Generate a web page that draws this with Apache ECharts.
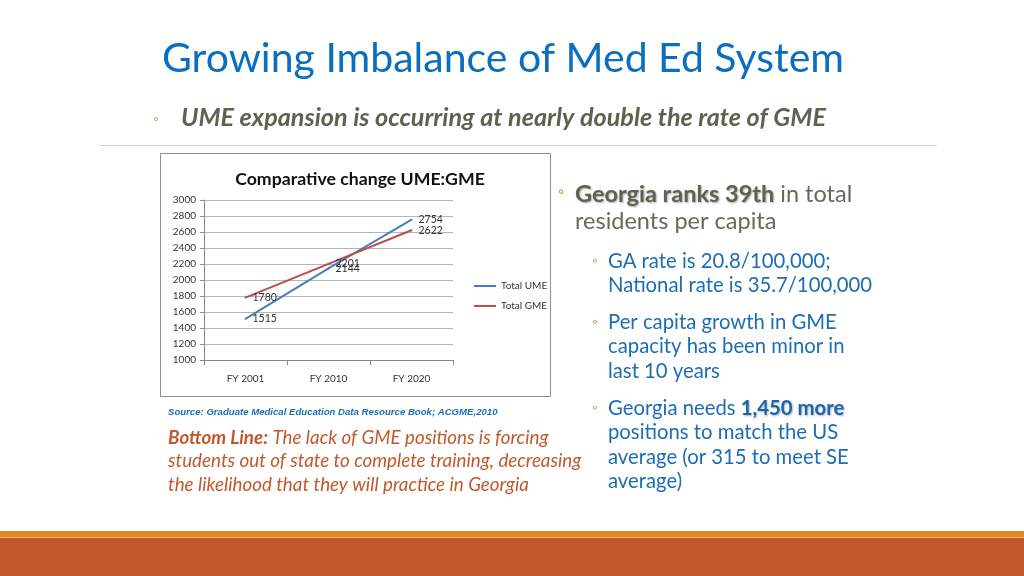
<!DOCTYPE html>
<html><head><meta charset="utf-8">
<script src="https://cdn.jsdelivr.net/npm/echarts@6/dist/echarts.min.js"></script>
<style>html,body{margin:0;padding:0;background:#fff}#c{width:1024px;height:576px}</style>
</head><body><div id="c"></div>
<script>
const categories = ['FY 2001', 'FY 2010', 'FY 2020'];
const umeValues = [1515, 2144, 2754];
const gmeValues = [1780, 2201, 2622];
const seriesNames = ['Total UME', 'Total GME'];
const yMin = 1000, yMax = 3000, yStep = 200;

const F = 'Lato, "Open Sans", sans-serif';
const chart = echarts.init(document.getElementById('c'), null, {renderer: 'canvas'});
const lbl = {show: true, position: 'right', distance: 6, fontSize: 10.5, color: '#333', fontFamily: F};
chart.setOption({
  animation: false,
  backgroundColor: '#fff',
  title: {text: 'Comparative change UME:GME', left: 355, top: 165, textAlign: 'center',
    textStyle: {fontSize: 17.7, fontWeight: 'bold', color: '#111', fontFamily: F}},
  legend: {orient: 'vertical', left: 469, top: 276, itemWidth: 22, itemHeight: 2, itemGap: 10,
    icon: 'rect', textStyle: {fontSize: 10, color: '#333', fontFamily: F},
    data: seriesNames},
  grid: {left: 204, top: 200, width: 249, height: 160, containLabel: false},
  xAxis: {type: 'category', data: categories, boundaryGap: true,
    axisLine: {lineStyle: {color: '#888'}}, axisTick: {show: true, lineStyle: {color: '#888'}},
    axisLabel: {fontSize: 10, color: '#333', fontFamily: F, margin: 14}},
  yAxis: {type: 'value', min: yMin, max: yMax, interval: yStep,
    axisLine: {show: true, lineStyle: {color: '#888'}}, axisTick: {show: true, length: 4, lineStyle: {color: '#888'}},
    axisLabel: {fontSize: 10, color: '#333', fontFamily: F, margin: 8, formatter: v => String(v)},
    splitLine: {lineStyle: {color: '#b5b5b5'}}},
  series: [
    {name: seriesNames[0], type: 'line', data: umeValues, symbol: 'circle', symbolSize: 2, showSymbol: true,
      color: '#4a7ebb', lineStyle: {width: 2}, label: lbl, labelLayout: {hideOverlap: false}},
    {name: seriesNames[1], type: 'line', data: gmeValues, symbol: 'circle', symbolSize: 2, showSymbol: true,
      color: '#be4b48', lineStyle: {width: 2}, label: lbl, labelLayout: {hideOverlap: false}}
  ],
  graphic: [
    {type: 'rect', shape: {x: 160.5, y: 153.5, width: 390, height: 243}, z: -1,
      style: {fill: '#fff', stroke: '#8c8c8c', lineWidth: 1}},
    {type: 'text', left: 162, top: 38, style: {text: 'Growing Imbalance of Med Ed System',
      fontSize: 41, fontFamily: F, fill: '#0a6fc0'}},
    {type: 'text', left: 153, top: 112, style: {text: '◦', fontSize: 14, fill: '#e08a2a', fontFamily: F}},
    {type: 'text', left: 181, top: 105, style: {text: 'UME expansion is occurring at nearly double the rate of GME',
      fontSize: 25.2, fontStyle: 'italic', fontWeight: 'bold', fontFamily: F, fill: '#5c6450'}},
    {type: 'rect', shape: {x: 100, y: 145, width: 837, height: 1}, style: {fill: '#d0d0d0'}},
    {type: 'text', left: 558, top: 184, style: {text: '◦', fontSize: 16, fill: '#e08a2a', fontFamily: F}},
    {type: 'text', left: 575, top: 181, style: {
      text: '{b|Georgia ranks 39th} in total\nresidents per capita',
      fontSize: 23.5, lineHeight: 27, fontFamily: F, fill: '#666a5c',
      rich: {b: {fontSize: 23.5, fontWeight: 'bold', fontFamily: F, fill: '#5e6252', textShadowColor: 'rgba(0,0,0,0.35)', textShadowBlur: 2, textShadowOffsetX: 1, textShadowOffsetY: 1}}}},
    {type: 'text', left: 592, top: 254, style: {text: '◦', fontSize: 13, fill: '#e08a2a', fontFamily: F}},
    {type: 'text', left: 608, top: 249, style: {text: 'GA rate is 20.8/100,000;\nNational rate is 35.7/100,000',
      fontSize: 20.3, lineHeight: 24.5, fontFamily: F, fill: '#1c6db5'}},
    {type: 'text', left: 592, top: 315, style: {text: '◦', fontSize: 13, fill: '#e08a2a', fontFamily: F}},
    {type: 'text', left: 608, top: 310, style: {text: 'Per capita growth in GME\ncapacity has been minor in\nlast 10 years',
      fontSize: 20.3, lineHeight: 24.5, fontFamily: F, fill: '#1c6db5'}},
    {type: 'text', left: 592, top: 401, style: {text: '◦', fontSize: 13, fill: '#e08a2a', fontFamily: F}},
    {type: 'text', left: 608, top: 396, style: {
      text: 'Georgia needs {b|1,450 more}\npositions to match the US\naverage (or 315 to meet SE\naverage)',
      fontSize: 20.3, lineHeight: 24.5, fontFamily: F, fill: '#1c6db5',
      rich: {b: {fontSize: 20.3, fontWeight: 'bold', fontFamily: F, fill: '#1a66ad', textShadowColor: 'rgba(0,0,0,0.3)', textShadowBlur: 2, textShadowOffsetX: 1, textShadowOffsetY: 1}}}},
    {type: 'text', left: 168, top: 407, style: {text: 'Source: Graduate Medical Education Data Resource Book; ACGME,2010',
      fontSize: 9.6, fontWeight: 'bold', fontStyle: 'italic', fontFamily: '"Liberation Sans", Arial, sans-serif', fill: '#1c6db5'}},
    {type: 'text', left: 168, top: 426, style: {
      text: '{b|Bottom Line:} The lack of GME positions is forcing\nstudents out of state to complete training, decreasing\nthe likelihood that they will practice in Georgia',
      fontSize: 18.8, lineHeight: 23.5, fontStyle: 'italic', fontFamily: F, fill: '#c05a2c',
      rich: {b: {fontSize: 18.8, fontStyle: 'italic', fontWeight: 'bold', fontFamily: F, fill: '#c05a2c'}}}},
    {type: 'rect', shape: {x: 0, y: 531, width: 1024, height: 6}, style: {fill: '#e4871f'}},
    {type: 'rect', shape: {x: 0, y: 537, width: 1024, height: 1}, style: {fill: '#f0b070'}},
    {type: 'rect', shape: {x: 0, y: 538, width: 1024, height: 38}, style: {fill: '#bf582b'}}
  ]
});
</script></body></html>
